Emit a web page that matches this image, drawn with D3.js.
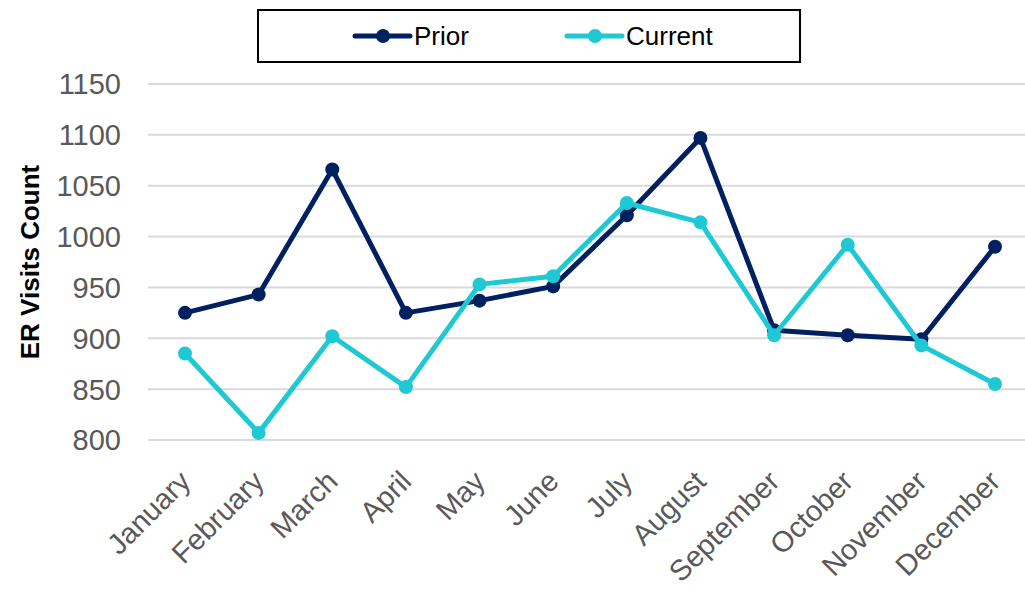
<!DOCTYPE html>
<html>
<head>
<meta charset="utf-8">
<script src="https://cdn.jsdelivr.net/npm/d3@7"></script>
<style>
  body { margin: 0; background: #fff; }
  svg { display: block; font-family: Arial, "Liberation Sans", sans-serif; }
</style>
</head>
<body>
<svg id="chart"></svg>
<script>
const months = ["January", "February", "March", "April", "May", "June",
    "July", "August", "September", "October", "November", "December"];
const prior = [925, 943, 1066, 925, 937, 951, 1021, 1097, 908, 903, 899, 990];
const current = [885, 807, 902, 852, 953, 961, 1033, 1014, 903, 992, 893, 855];
const yTicks = [800, 850, 900, 950, 1000, 1050, 1100, 1150];

const svg = d3.select("#chart")
    .attr("width", 1025)
    .attr("height", 592);

const x = d3.scalePoint()
    .domain(months)
    .range([185, 995]);

const y = d3.scaleLinear()
    .domain([800, 1150])
    .range([440, 84]);

// gridlines
svg.append("g")
    .selectAll("line")
    .data(yTicks)
    .join("line")
    .attr("x1", 148)
    .attr("x2", 1031)
    .attr("y1", d => y(d))
    .attr("y2", d => y(d))
    .attr("stroke", "#d9d9d9")
    .attr("stroke-width", 2);

// y tick labels
svg.append("g")
    .selectAll("text")
    .data(yTicks)
    .join("text")
    .attr("x", 121)
    .attr("y", d => y(d))
    .attr("dy", "0.36em")
    .attr("text-anchor", "end")
    .attr("font-size", 29)
    .attr("fill", "#595959")
    .text(d => d);

// month labels
svg.append("g")
    .selectAll("text")
    .data(months)
    .join("text")
    .attr("transform", d => `translate(${x(d)},${476}) rotate(-45)`)
    .attr("text-anchor", "end")
    .attr("dy", "0.35em")
    .attr("font-size", 29)
    .attr("fill", "#595959")
    .text(d => d);

// axis title
svg.append("text")
    .attr("transform", "translate(30,262) rotate(-90)")
    .attr("text-anchor", "middle")
    .attr("dy", "0.35em")
    .attr("font-size", 26)
    .attr("font-weight", "bold")
    .attr("fill", "#000")
    .text("ER Visits Count");

const series = [
    { name: "Prior", values: prior, color: "#002060" },
    { name: "Current", values: current, color: "#1fc9d3" }
];

const line = d3.line()
    .x((d, i) => x(months[i]))
    .y(d => y(d));

series.forEach(s => {
    svg.append("path")
        .datum(s.values)
        .attr("d", line)
        .attr("fill", "none")
        .attr("stroke", s.color)
        .attr("stroke-width", 5)
        .attr("stroke-linejoin", "round");
    svg.append("g")
        .selectAll("circle")
        .data(s.values)
        .join("circle")
        .attr("cx", (d, i) => x(months[i]))
        .attr("cy", d => y(d))
        .attr("r", 7)
        .attr("fill", s.color);
});

// legend
const legend = svg.append("g");
legend.append("rect")
    .attr("x", 258)
    .attr("y", 10)
    .attr("width", 542)
    .attr("height", 52)
    .attr("fill", "#fff")
    .attr("stroke", "#000")
    .attr("stroke-width", 2);

const legendItems = [
    { name: "Prior", color: "#002060", x: 355 },
    { name: "Current", color: "#1fc9d3", x: 567 }
];
legendItems.forEach(it => {
    legend.append("line")
        .attr("x1", it.x).attr("x2", it.x + 55)
        .attr("y1", 36).attr("y2", 36)
        .attr("stroke", it.color)
        .attr("stroke-width", 5)
        .attr("stroke-linecap", "round");
    legend.append("circle")
        .attr("cx", it.x + 28).attr("cy", 36).attr("r", 7)
        .attr("fill", it.color);
    legend.append("text")
        .attr("x", it.x + 59).attr("y", 36)
        .attr("dy", "0.36em")
        .attr("font-size", 26)
        .attr("fill", "#000")
        .text(it.name);
});
</script>
</body>
</html>
